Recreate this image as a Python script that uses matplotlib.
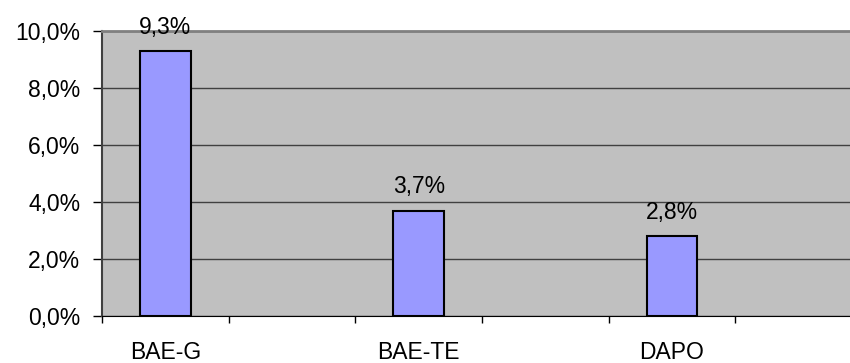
import numpy as np
import matplotlib.pyplot as plt
from matplotlib.ticker import FuncFormatter

plt.rcParams['font.family'] = ['Liberation Sans', 'DejaVu Sans']

# Data
categories = ["BAE-G", "BAE-TE", "DAPO"]
values = [9.3, 3.7, 2.8]
labels = ["9,3%", "3,7%", "2,8%"]

x = np.arange(len(categories)) * 2

fig = plt.figure(figsize=(8.5, 3.63), dpi=100)
ax = fig.add_axes([102 / 850, 47 / 363, 760 / 850, 285 / 363])
ax.set_facecolor('#C0C0C0')

ax.bar(x, values, width=0.4, color='#9999FF', edgecolor='black', linewidth=1.5, zorder=3)
for xi, v, lab in zip(x, values, labels):
    ax.text(xi, v + 0.6, lab, ha='center', va='baseline', fontsize=16.5, zorder=4)

ax.set_ylim(0, 10)
ax.set_xlim(-0.5, 5.5)
ax.set_yticks(np.arange(0, 10.1, 2))
ax.yaxis.set_major_formatter(FuncFormatter(lambda v, p: f"{v:.1f}%".replace('.', ',')))
ax.grid(axis='y', color='#404040', linewidth=1, zorder=1)

ax.set_xticks(np.arange(-0.5, 6, 1))
ax.set_xticklabels([])
ax.set_xticks(x, minor=True)
ax.set_xticklabels(categories, minor=True)
ax.tick_params(axis='x', which='major', length=5, width=1, color='black')
ax.tick_params(axis='x', which='minor', length=0, pad=18, labelsize=16.5)
ax.tick_params(axis='y', length=6.5, width=1, labelsize=16.5, pad=9)

ax.spines['top'].set_color('#808080')
ax.spines['top'].set_linewidth(2)
ax.spines['left'].set_color('#404040')
ax.spines['left'].set_linewidth(1.5)
ax.spines['bottom'].set_color('black')
ax.spines['right'].set_visible(False)

fig.savefig('out.png', dpi=100)
